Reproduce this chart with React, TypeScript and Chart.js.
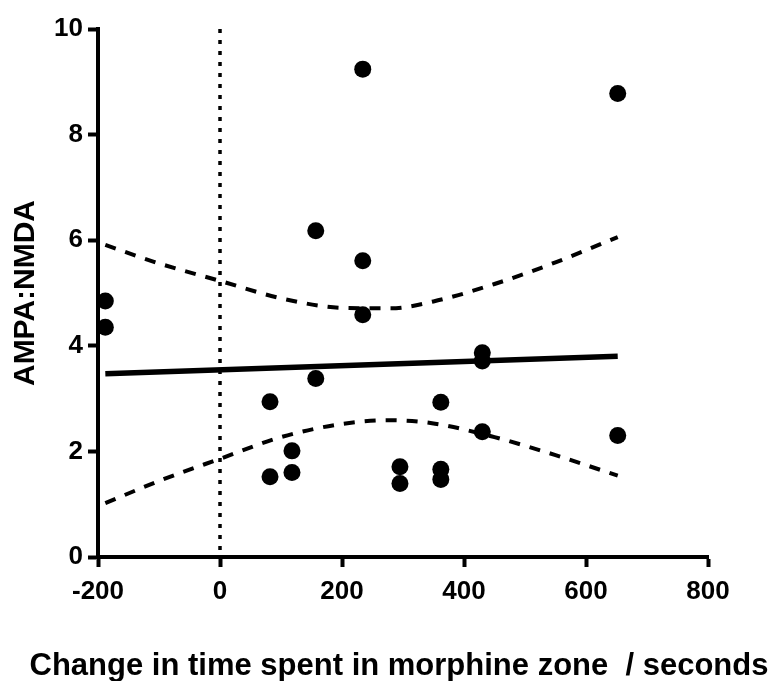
import React, { useEffect, useRef } from "react";
import { Chart, registerables } from "chart.js";

Chart.register(...registerables);

// Scatter data (seconds, AMPA:NMDA ratio)
const pointX = [-188, -188, 82, 82, 118, 118, 157, 157, 234, 234, 234, 295, 295, 362, 362, 362, 430, 430, 430, 652, 652];
const pointY = [4.85, 4.35, 2.94, 1.52, 2.01, 1.6, 6.18, 3.38, 9.24, 5.61, 4.59, 1.71, 1.39, 2.93, 1.66, 1.47, 3.87, 3.71, 2.37, 8.78, 2.3];

// Regression line
const fitX = [-188, 652];
const fitY = [3.47, 3.8];

// 95% confidence bands
const bandX = [-188, -100, 0, 100, 200, 280, 350, 450, 550, 652];
const upperY = [5.91, 5.56, 5.23, 4.9, 4.72, 4.71, 4.84, 5.17, 5.58, 6.06];
const lowerY = [1.02, 1.44, 1.86, 2.27, 2.52, 2.59, 2.53, 2.27, 1.93, 1.54];

// Zero reference line (drawn top to bottom)
const zeroX = [0, 0];
const zeroY = [10, 0];

const xTicks = [-200, 0, 200, 400, 600, 800];
const yTicks = [0, 2, 4, 6, 8, 10];

const xTitle = "Change in time spent in morphine zone  / seconds";
const yTitle = "AMPA:NMDA";

const FONT = "'Liberation Sans', Arial, Helvetica, sans-serif";

const zip = (xs: number[], ys: number[]) => xs.map((x, i) => ({ x, y: ys[i] }));

const xTitlePlugin = {
  id: "xTitleBottom",
  afterDraw(chart: any) {
    const { ctx, chartArea } = chart;
    ctx.save();
    ctx.font = `bold 31px ${FONT}`;
    ctx.fillStyle = "#000";
    ctx.textAlign = "center";
    ctx.textBaseline = "alphabetic";
    ctx.fillText(xTitle, (chartArea.left + chartArea.right) / 2 - 4, chartArea.bottom + 118);
    ctx.restore();
  },
};

export default function App() {
  const ref = useRef<HTMLCanvasElement | null>(null);

  useEffect(() => {
    document.body.style.margin = "0";
    const canvas = ref.current;
    if (!canvas) return;
    const chart = new Chart(canvas, {
      type: "scatter",
      data: {
        datasets: [
          {
            data: zip(pointX, pointY),
            pointRadius: 8.5,
            pointHoverRadius: 8.5,
            backgroundColor: "#000",
            borderWidth: 0,
            showLine: false,
          },
          {
            data: zip(fitX, fitY),
            showLine: true,
            pointRadius: 0,
            borderColor: "#000",
            borderWidth: 5.5,
          },
          {
            data: zip(bandX, upperY),
            showLine: true,
            pointRadius: 0,
            borderColor: "#000",
            borderWidth: 4,
            borderDash: [11, 10],
            tension: 0.4,
            cubicInterpolationMode: "monotone",
          },
          {
            data: zip(bandX, lowerY),
            showLine: true,
            pointRadius: 0,
            borderColor: "#000",
            borderWidth: 4,
            borderDash: [11, 10],
            tension: 0.4,
            cubicInterpolationMode: "monotone",
          },
          {
            data: zip(zeroX, zeroY),
            showLine: true,
            pointRadius: 0,
            borderColor: "#000",
            borderWidth: 3.5,
            borderDash: [4, 7],
          },
        ],
      } as any,
      options: {
        animation: false,
        responsive: true,
        maintainAspectRatio: false,
        layout: { padding: { top: 29, right: 69, bottom: 0, left: 0 } },
        plugins: { legend: { display: false }, tooltip: { enabled: false } },
        scales: {
          x: {
            type: "linear",
            min: -200,
            max: 800,
            afterFit: (s: any) => {
              s.height = 124;
            },
            afterBuildTicks: (s: any) => {
              s.ticks = xTicks.map((v) => ({ value: v }));
            },
            ticks: {
              color: "#000",
              font: { family: FONT, size: 26, weight: "bold" },
              padding: 9,
              maxRotation: 0,
            },
            grid: {
              drawOnChartArea: false,
              drawTicks: true,
              tickLength: 10,
              tickWidth: 4,
              tickColor: "#000",
            },
            border: { color: "#000", width: 4 },
            title: { display: false },
          },
          y: {
            type: "linear",
            min: 0,
            max: 10,
            afterFit: (s: any) => {
              s.width = 98;
            },
            afterBuildTicks: (s: any) => {
              s.ticks = yTicks.map((v) => ({ value: v }));
            },
            ticks: {
              color: "#000",
              font: { family: FONT, size: 26, weight: "bold" },
              padding: 5,
            },
            grid: {
              drawOnChartArea: false,
              drawTicks: true,
              tickLength: 10,
              tickWidth: 4,
              tickColor: "#000",
            },
            border: { color: "#000", width: 4 },
            title: {
              display: true,
              text: yTitle,
              color: "#000",
              font: { family: FONT, size: 30, weight: "bold" },
              padding: { top: 8, bottom: 0 },
            },
          },
        },
      } as any,
      plugins: [xTitlePlugin],
    });
    return () => chart.destroy();
  }, []);

  return (
    <div style={{ width: 777, height: 681, position: "relative" }}>
      <canvas ref={ref} />
    </div>
  );
}
